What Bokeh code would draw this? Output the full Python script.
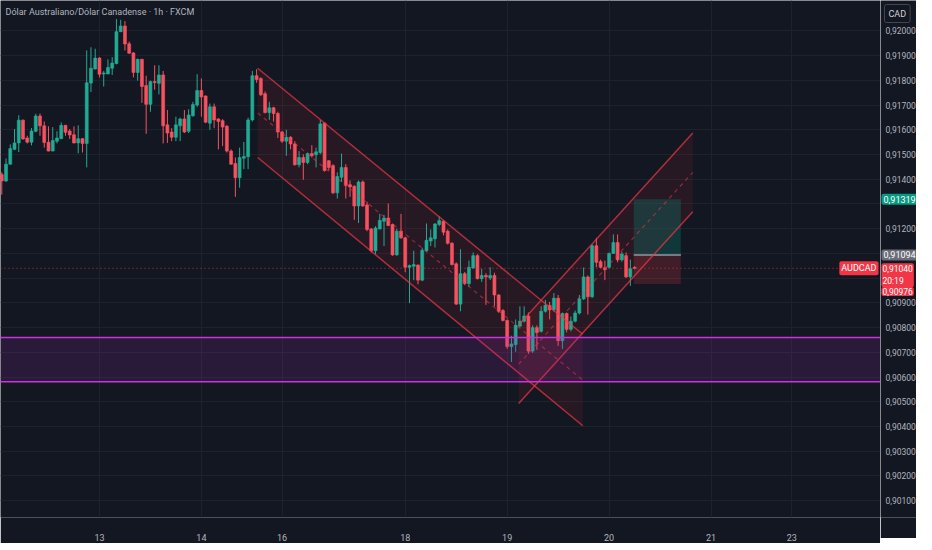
from bokeh.plotting import figure
from bokeh.models import Range1d, FixedTicker, CustomJSTickFormatter, Label, BoxAnnotation, Span
from bokeh.layouts import row
from bokeh.core.properties import value
from bokeh.embed import file_html
from bokeh.resources import INLINE

TITLE = "Dólar Australiano/Dólar Canadense · 1h · FXCM"
SYMBOL = "AUDCAD"
CURRENCY = "CAD"
COUNTDOWN = "20:19"

opens = [0.91419, 0.91393, 0.91461, 0.91521, 0.91547, 0.91639, 0.91567, 0.91550, 0.91594, 0.91656,
         0.91616, 0.91550, 0.91514, 0.91554, 0.91564, 0.91618, 0.91595, 0.91580, 0.91547, 0.91564,
         0.91545, 0.91789, 0.91846, 0.91890, 0.91826, 0.91826, 0.91849, 0.91868, 0.91997, 0.92020,
         0.91948, 0.91911, 0.91832, 0.91885, 0.91779, 0.91703, 0.91795, 0.91788, 0.91822, 0.91620,
         0.91591, 0.91570, 0.91616, 0.91644, 0.91594, 0.91657, 0.91700, 0.91759, 0.91737, 0.91627,
         0.91693, 0.91644, 0.91637, 0.91614, 0.91514, 0.91464, 0.91406, 0.91485, 0.91491, 0.91640,
         0.91819, 0.91808, 0.91746, 0.91670, 0.91689, 0.91666, 0.91591, 0.91554, 0.91570, 0.91543,
         0.91459, 0.91488, 0.91468, 0.91504, 0.91499, 0.91508, 0.91627, 0.91475, 0.91455, 0.91345,
         0.91408, 0.91448, 0.91378, 0.91372, 0.91292, 0.91389, 0.91296, 0.91199, 0.91111, 0.91199,
         0.91230, 0.91243, 0.91217, 0.91094, 0.91190, 0.91163, 0.91044, 0.91048, 0.91053, 0.90992,
         0.91111, 0.91150, 0.91159, 0.91217, 0.91230, 0.91190, 0.91141, 0.91058, 0.90895, 0.91018,
         0.90978, 0.91041, 0.91091, 0.90998, 0.91011, 0.91001, 0.91011, 0.90932, 0.90869, 0.90829,
         0.90723, 0.90731, 0.90806, 0.90826, 0.90847, 0.90705, 0.90800, 0.90785, 0.90866, 0.90890,
         0.90872, 0.90919, 0.90747, 0.90857, 0.90793, 0.90826, 0.90859, 0.90916, 0.91005, 0.90925,
         0.91131, 0.91067, 0.91042, 0.91044, 0.91100, 0.91144, 0.91074, 0.91091, 0.91005, 0.91044]
highs = [0.91428, 0.91484, 0.91541, 0.91603, 0.91659, 0.91642, 0.91576, 0.91607, 0.91665, 0.91666,
         0.91634, 0.91614, 0.91611, 0.91594, 0.91630, 0.91620, 0.91603, 0.91614, 0.91618, 0.91567,
         0.91921, 0.91934, 0.91928, 0.91894, 0.91838, 0.91885, 0.91894, 0.92048, 0.92045, 0.92040,
         0.91957, 0.91914, 0.91888, 0.91887, 0.91819, 0.91799, 0.91861, 0.91861, 0.91838, 0.91680,
         0.91607, 0.91653, 0.91649, 0.91680, 0.91683, 0.91713, 0.91825, 0.91808, 0.91739, 0.91706,
         0.91706, 0.91647, 0.91643, 0.91620, 0.91521, 0.91488, 0.91528, 0.91551, 0.91649, 0.91838,
         0.91845, 0.91812, 0.91755, 0.91713, 0.91693, 0.91673, 0.91596, 0.91600, 0.91574, 0.91554,
         0.91514, 0.91501, 0.91508, 0.91538, 0.91528, 0.91640, 0.91630, 0.91477, 0.91461, 0.91428,
         0.91504, 0.91461, 0.91395, 0.91375, 0.91395, 0.91395, 0.91309, 0.91203, 0.91210, 0.91260,
         0.91256, 0.91302, 0.91221, 0.91200, 0.91260, 0.91167, 0.91055, 0.91111, 0.91055, 0.91123,
         0.91221, 0.91197, 0.91223, 0.91250, 0.91234, 0.91197, 0.91146, 0.91064, 0.91117, 0.91025,
         0.91071, 0.91104, 0.91097, 0.91038, 0.91020, 0.91044, 0.91022, 0.90935, 0.90875, 0.90833,
         0.90767, 0.90833, 0.90886, 0.90886, 0.90861, 0.90809, 0.90809, 0.90886, 0.90912, 0.90904,
         0.90940, 0.90932, 0.90861, 0.90861, 0.90845, 0.90869, 0.90932, 0.91043, 0.91011, 0.91137,
         0.91163, 0.91075, 0.91071, 0.91104, 0.91177, 0.91177, 0.91107, 0.91104, 0.91075, 0.91048]
lows = [0.91338, 0.91389, 0.91459, 0.91518, 0.91510, 0.91560, 0.91545, 0.91537, 0.91590, 0.91576,
        0.91528, 0.91513, 0.91513, 0.91545, 0.91563, 0.91576, 0.91563, 0.91545, 0.91505, 0.91508,
        0.91448, 0.91753, 0.91844, 0.91812, 0.91775, 0.91825, 0.91822, 0.91865, 0.91995, 0.91921,
        0.91907, 0.91812, 0.91799, 0.91709, 0.91584, 0.91673, 0.91762, 0.91743, 0.91545, 0.91547,
        0.91554, 0.91554, 0.91554, 0.91587, 0.91587, 0.91653, 0.91693, 0.91653, 0.91627, 0.91600,
        0.91607, 0.91521, 0.91534, 0.91508, 0.91459, 0.91329, 0.91366, 0.91441, 0.91441, 0.91634,
        0.91790, 0.91737, 0.91666, 0.91640, 0.91634, 0.91567, 0.91547, 0.91495, 0.91521, 0.91455,
        0.91448, 0.91398, 0.91461, 0.91488, 0.91448, 0.91501, 0.91431, 0.91435, 0.91340, 0.91322,
        0.91389, 0.91322, 0.91329, 0.91236, 0.91223, 0.91289, 0.91190, 0.91104, 0.91098, 0.91197,
        0.91130, 0.91210, 0.91091, 0.91091, 0.91159, 0.91024, 0.90899, 0.90992, 0.90975, 0.90988,
        0.91107, 0.91130, 0.91124, 0.91210, 0.91173, 0.91136, 0.91051, 0.90892, 0.90866, 0.90972,
        0.90965, 0.91038, 0.90995, 0.90985, 0.90892, 0.90992, 0.90886, 0.90860, 0.90825, 0.90714,
        0.90661, 0.90702, 0.90801, 0.90821, 0.90694, 0.90698, 0.90710, 0.90780, 0.90861, 0.90833,
        0.90865, 0.90726, 0.90714, 0.90781, 0.90785, 0.90821, 0.90853, 0.90912, 0.90853, 0.90920,
        0.91044, 0.91040, 0.90992, 0.91040, 0.91098, 0.91064, 0.91067, 0.91001, 0.90969, 0.91036]
closes = [0.91393, 0.91461, 0.91524, 0.91547, 0.91639, 0.91563, 0.91550, 0.91595, 0.91656, 0.91616,
          0.91549, 0.91514, 0.91557, 0.91567, 0.91618, 0.91590, 0.91579, 0.91547, 0.91564, 0.91545,
          0.91790, 0.91849, 0.91890, 0.91825, 0.91830, 0.91852, 0.91870, 0.91997, 0.92020, 0.91947,
          0.91910, 0.91832, 0.91885, 0.91775, 0.91703, 0.91795, 0.91791, 0.91822, 0.91616, 0.91587,
          0.91570, 0.91620, 0.91644, 0.91591, 0.91660, 0.91702, 0.91759, 0.91733, 0.91631, 0.91693,
          0.91640, 0.91634, 0.91611, 0.91514, 0.91461, 0.91406, 0.91488, 0.91492, 0.91640, 0.91819,
          0.91803, 0.91742, 0.91670, 0.91689, 0.91666, 0.91591, 0.91554, 0.91570, 0.91543, 0.91459,
          0.91488, 0.91468, 0.91504, 0.91495, 0.91511, 0.91624, 0.91435, 0.91448, 0.91345, 0.91411,
          0.91448, 0.91375, 0.91369, 0.91292, 0.91389, 0.91292, 0.91197, 0.91111, 0.91203, 0.91234,
          0.91243, 0.91213, 0.91094, 0.91190, 0.91163, 0.91044, 0.91051, 0.91055, 0.90992, 0.91113,
          0.91153, 0.91163, 0.91219, 0.91233, 0.91186, 0.91141, 0.91055, 0.90895, 0.91018, 0.90978,
          0.91044, 0.91091, 0.90998, 0.91011, 0.91005, 0.91011, 0.90932, 0.90866, 0.90829, 0.90723,
          0.90734, 0.90810, 0.90826, 0.90847, 0.90705, 0.90800, 0.90780, 0.90866, 0.90890, 0.90872,
          0.90919, 0.90747, 0.90857, 0.90793, 0.90826, 0.90859, 0.90916, 0.91005, 0.90925, 0.91131,
          0.91064, 0.91044, 0.91034, 0.91100, 0.91144, 0.91074, 0.91098, 0.91005, 0.91038, 0.91040]

# date ticks (bar index -> day label)
day_ticks = [23, 47, 66, 95, 119, 143, 167, 186]
day_labels = ["13", "14", "16", "18", "19", "20", "21", "23"]
price_ticks = [round(0.901 + 0.001 * k, 3) for k in range(20)]
hidden_ticks = [0.910, 0.911, 0.913]

# drawings (bar index, price)
desc_x = [60.25, 136.8]
desc_upper = [0.91849, 0.90773]
desc_lower = [0.91488, 0.90403]
asc_x = [121.7, 162.7]
asc_upper = [0.90811, 0.91587]
asc_lower = [0.90493, 0.91269]
zone = [0.90581, 0.90760]
pos_x = [148.8, 159.9]
entry_price = 0.91094
target_price = 0.91319
stop_price = 0.90976
last_price = 0.91040

x_view = [-0.3, 206.9]
y_view = [0.90032, 0.92123]

BG = "#131722"
UP = "#22ab94"
DOWN = "#f7525f"
RED = "#f23645"
TXT = "#b2b5be"
FONT = "Roboto"

FW, FH, SW, BOT = 880, 517, 36, 21

# ---------------- main chart ----------------
p = figure(frame_width=FW, frame_height=FH,
           x_range=Range1d(*x_view), y_range=Range1d(*y_view),
           y_axis_location="right", output_backend="svg", toolbar_location=None,
           min_border_left=0, min_border_top=0, min_border_right=0, min_border_bottom=BOT,
           background_fill_color=BG, border_fill_color=BG, outline_line_color=None)
p.yaxis.visible = False
p.ygrid.ticker = FixedTicker(ticks=price_ticks)
p.xaxis.ticker = FixedTicker(ticks=day_ticks)
p.xaxis.formatter = CustomJSTickFormatter(args=dict(pos=day_ticks, lab=day_labels), code="""
const i = pos.indexOf(tick); return i >= 0 ? lab[i] : "";
""")
ax = p.xaxis[0]
ax.axis_line_color = None
ax.major_tick_line_color = None
ax.minor_tick_line_color = None
ax.major_label_text_color = TXT
ax.major_label_text_font = FONT
ax.major_label_text_font_size = "9px"
ax.major_label_standoff = 10
p.xgrid.grid_line_color = "#1e222d"
p.ygrid.grid_line_color = "#1e222d"

# channel fills
p.patch([desc_x[0], desc_x[1], desc_x[1], desc_x[0]],
        [desc_upper[0], desc_upper[1], desc_lower[1], desc_lower[0]],
        fill_color=RED, fill_alpha=0.09, line_color=None)
p.patch([asc_x[0], asc_x[1], asc_x[1], asc_x[0]],
        [asc_upper[0], asc_upper[1], asc_lower[1], asc_lower[0]],
        fill_color=RED, fill_alpha=0.09, line_color=None)

# position tool
p.quad(left=[pos_x[0]], right=[pos_x[1]], bottom=[entry_price], top=[target_price],
       fill_color="#089981", fill_alpha=0.25, line_color=None)
p.quad(left=[pos_x[0]], right=[pos_x[1]], bottom=[stop_price], top=[entry_price],
       fill_color=RED, fill_alpha=0.2, line_color=None)
p.segment(x0=[pos_x[0]], y0=[entry_price], x1=[pos_x[1]], y1=[entry_price],
          line_color="#787b86", line_width=2)

# candles
idx = list(range(len(opens)))
cols = [UP if c >= o else DOWN for o, c in zip(opens, closes)]
tops = [max(o, c) for o, c in zip(opens, closes)]
bots = [min(o, c) for o, c in zip(opens, closes)]
p.segment(x0=idx, y0=lows, x1=idx, y1=highs, line_color=cols, line_width=1)
p.vbar(x=idx, width=0.7, top=tops, bottom=bots, fill_color=cols, line_color=cols, line_width=0.6)

# channel lines
for xs, a, b in ((desc_x, desc_upper, desc_lower), (asc_x, asc_upper, asc_lower)):
    p.line(xs, a, line_color=RED, line_alpha=0.7, line_width=1.5)
    p.line(xs, b, line_color=RED, line_alpha=0.7, line_width=1.5)
    mid = [(u + l) / 2 for u, l in zip(a, b)]
    p.line(xs, mid, line_color=RED, line_alpha=0.55, line_width=1.2, line_dash="4 4")

# purple zone
p.add_layout(BoxAnnotation(bottom=zone[0], top=zone[1], fill_color="#9c27b0", fill_alpha=0.17, line_color=None))
for z in zone:
    p.add_layout(Span(location=z, dimension="width", line_color="#cc33e0", line_width=1.5))

# last price line
p.add_layout(Span(location=last_price, dimension="width", line_color=RED, line_alpha=0.8,
                  line_width=1, line_dash="1 3"))


def fmt(v):
    return f"{v:.5f}".replace(".", ",")


def lab(text, x, y, bg, align="left", baseline="middle", yoff=0, color="#ffffff", size="9px",
        pad=2, border=None, units="data"):
    return Label(x=x, y=y, x_units=units, y_units="data", text=text, text_align=align,
                 text_baseline=baseline, y_offset=yoff, text_color=color, text_font=FONT,
                 text_font_size=size, background_fill_color=bg, padding=pad,
                 border_line_color=border, border_radius=2)


p.add_layout(Label(x=5, y=y_view[1], x_units="screen", y_units="data", text=TITLE,
                   text_align="left", text_baseline="top", y_offset=-6, text_color=TXT,
                   text_font=FONT, text_font_size="9px"))
p.add_layout(lab(SYMBOL, FW - 2, last_price, RED, align="right", units="screen"))

# ---------------- price scale (right) ----------------
s = figure(frame_width=SW, frame_height=FH, x_range=Range1d(0, SW), y_range=p.y_range,
           output_backend="svg", toolbar_location=None,
           min_border_left=0, min_border_top=0, min_border_right=0, min_border_bottom=BOT,
           background_fill_color=BG, border_fill_color=BG, outline_line_color=None)
s.xaxis.visible = False
s.yaxis.visible = False
s.xgrid.visible = False
s.ygrid.visible = False
shown = [t for t in price_ticks if all(abs(t - h) > 1e-7 for h in hidden_ticks)]
s.text(x=[5] * len(shown), y=shown, text=[fmt(t) for t in shown],
       text_font=value(FONT), text_font_size=value("8.5px"), text_color=TXT,
       text_baseline="middle", text_align="left")
s.add_layout(lab(CURRENCY, 4, y_view[1], BG, baseline="top", yoff=-4, color="#d1d4dc",
                 pad=4, border="#434651"))
s.add_layout(lab(fmt(target_price), 1, target_price, "#089981"))
s.add_layout(lab(fmt(entry_price), 1, entry_price, "#6a6d78"))
s.add_layout(lab(fmt(last_price) + "\n" + COUNTDOWN, 1, last_price, RED, baseline="top", yoff=5,
                 size="8.5px", pad=1))
s.add_layout(lab(fmt(stop_price), 1, stop_price, RED, baseline="top", yoff=-3,
                 size="8.5px", pad=1))

layout = row(p, s, spacing=0)
open("out.html", "w").write(file_html(layout, INLINE))
